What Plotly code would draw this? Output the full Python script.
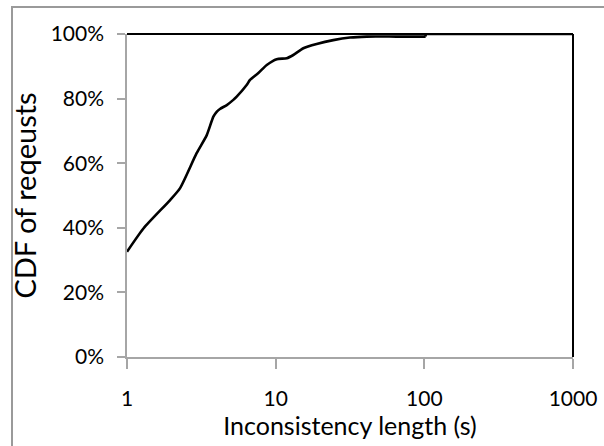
import plotly.graph_objects as go

# Data (CDF of request inconsistency length)
length_s = [1.0, 1.29, 1.95, 2.27, 2.94, 3.44, 3.81, 4.01, 4.22, 4.69, 5.19, 5.47,
            6.38, 6.72, 7.65, 8.71, 10.16, 11.87, 13.14, 15.35, 18.87, 24.4,
            31.6, 41.0, 65.0, 102.0, 102.0, 1000.0]
cdf = [0.326, 0.398, 0.486, 0.522, 0.631, 0.687, 0.744, 0.759, 0.768, 0.780, 0.796, 0.806,
       0.842, 0.858, 0.879, 0.904, 0.922, 0.925, 0.935, 0.956, 0.969, 0.981,
       0.989, 0.992, 0.992, 0.992, 1.0, 1.0]

x_ticks = [1, 10, 100, 1000]
x_tick_labels = ["1", "10", "100", "1000"]
y_ticks = [0, 0.2, 0.4, 0.6, 0.8, 1.0]
y_tick_labels = ["0%", "20%", "40%", "60%", "80%", "100%"]

FONT = "Lato"
AXIS_GRAY = "#a6a6a6"

STEP = len(length_s) - 3  # index where the smooth part ends and the step begins

fig = go.Figure()
fig.add_trace(go.Scatter(
    x=length_s[:STEP + 1], y=cdf[:STEP + 1], mode="lines",
    line=dict(color="black", width=2.6, shape="spline", smoothing=0.6),
    showlegend=False, hoverinfo="x+y",
))
fig.add_trace(go.Scatter(
    x=length_s[STEP:], y=cdf[STEP:], mode="lines",
    line=dict(color="black", width=2.6),
    showlegend=False, hoverinfo="x+y",
))

fig.update_layout(
    width=604, height=446,
    margin=dict(l=127, r=31, t=34, b=89, autoexpand=False),
    paper_bgcolor="white", plot_bgcolor="white",
    font=dict(family=FONT, size=21, color="black"),
    xaxis=dict(
        type="log", range=[0, 3], automargin=False,
        tickvals=x_ticks, ticktext=x_tick_labels,
        showgrid=False, zeroline=False,
        showline=True, linecolor=AXIS_GRAY, linewidth=1.5,
        ticks="outside", ticklen=10, tickcolor=AXIS_GRAY, tickwidth=1.5,
        ticklabelstandoff=12,
        title=dict(text="Inconsistency length (s)", standoff=6, font=dict(size=25)),
    ),
    yaxis=dict(
        range=[0, 1], automargin=False,
        tickvals=y_ticks, ticktext=y_tick_labels,
        showgrid=False, zeroline=False,
        showline=True, linecolor=AXIS_GRAY, linewidth=1.5,
        ticks="outside", ticklen=8, tickcolor=AXIS_GRAY, tickwidth=1.5,
        ticklabelstandoff=9,
        title=dict(text="CDF of reqeusts", standoff=6, font=dict(size=29)),
    ),
)

# plot-area top/right frame (black)
fig.add_shape(type="line", xref="paper", yref="paper", x0=0, x1=1, y0=1, y1=1,
              line=dict(color="black", width=2))
fig.add_shape(type="line", xref="paper", yref="paper", x0=1, x1=1, y0=0, y1=1,
              line=dict(color="black", width=2))

# Remove the default 8px page margin so the figure fills the window exactly,
# and draw the outer chart border (left + top edges; the rest lies beyond the window).
post = (
    "document.body.style.margin='0';"
    "document.body.style.overflow='hidden';"
    "var b=document.createElement('div');"
    "b.style.cssText='position:absolute;left:11px;top:6px;width:700px;height:600px;"
    "border-left:2px solid #9a9a9a;border-top:2px solid #9a9a9a;"
    "pointer-events:none;z-index:10;box-sizing:border-box;';"
    "document.body.appendChild(b);"
)
fig.write_html("out.html", config={"displayModeBar": False}, post_script=post)
